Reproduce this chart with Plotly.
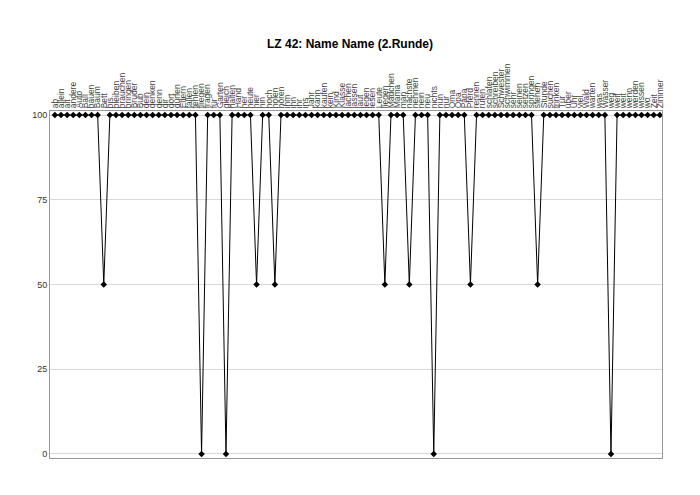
import plotly.graph_objects as go

# Word list (x categories) and score per word
words = [
    "ab", "allein", "alt", "andere", "Auto", "Ball", "bauen", "Baum", "Bett", "bis",
    "bleiben", "brauchen", "bringen", "Bruder", "Bub", "dein", "denken", "denn", "dir", "dort",
    "dürfen", "Eltern", "fallen", "fehlen", "fliegen", "fragen", "für", "Garten", "gleich", "halten",
    "Hand", "her", "heute", "hier", "hin", "hoch", "holen", "hören", "ihm", "ihn",
    "ihr", "ins", "Jahr", "kann", "kaufen", "kein", "Kind", "Klasse", "lachen", "lassen",
    "laut", "legen", "lesen", "Leute", "liegen", "Mädchen", "Mama", "man", "nächste", "nehmen",
    "nein", "neu", "nichts", "nun", "nur", "Oma", "Opa", "Papa", "Pferd", "rennen",
    "rufen", "schlafen", "schreiben", "Schwester", "schwimmen", "sehr", "seinen", "setzen", "springen", "stehen",
    "Stunde", "suchen", "trinken", "Tür", "über", "Uhr", "viel", "Wald", "warten", "was",
    "Wasser", "weg", "weil", "weit", "wenn", "werden", "wissen", "wo", "Zeit", "Zimmer",
]

scores = [100] * len(words)
partial = ["Bett", "hier", "holen", "liegen", "nächste", "Pferd", "stehen"]
wrong = ["fliegen", "gleich", "nichts", "weg"]
for w in partial:
    scores[words.index(w)] = 50
for w in wrong:
    scores[words.index(w)] = 0

y_ticks = [0, 25, 50, 75, 100]

idx = list(range(len(words)))

fig = go.Figure(
    go.Scatter(
        x=idx,
        y=scores,
        mode="lines+markers",
        line=dict(color="black", width=1),
        marker=dict(symbol="diamond", size=5, color="black"),
        hoverinfo="skip",
    )
)

fig.update_layout(
    width=700,
    height=495,
    paper_bgcolor="white",
    plot_bgcolor="white",
    margin=dict(l=50, r=38, t=111, b=37),
    showlegend=False,
    font=dict(family="Liberation Sans, Arial, sans-serif", color="#333333"),
    title=dict(
        text="<b>LZ 42: Name Name (2.Runde)</b>",
        x=0.5,
        xanchor="center",
        y=0.912,
        yanchor="middle",
        font=dict(size=12, color="black"),
    ),
)

fig.update_xaxes(
    side="top",
    range=[-0.8, len(words) - 0.65],
    tickmode="array",
    tickvals=idx,
    ticktext=words,
    tickangle=-90,
    tickfont=dict(size=8.5, color="#444444"),
    showgrid=False,
    zeroline=False,
    showline=True,
    linecolor="#999999",
    linewidth=1,
    mirror=True,
    ticks="",
)

fig.update_yaxes(
    range=[-1.2, 101.2],
    tickmode="array",
    tickvals=y_ticks,
    tickfont=dict(size=9, color="#333333"),
    showgrid=True,
    gridcolor="#d9d9d9",
    gridwidth=1,
    zeroline=False,
    showline=True,
    linecolor="#999999",
    linewidth=1,
    mirror=True,
    ticks="",
)

fig.write_html("out.html")
